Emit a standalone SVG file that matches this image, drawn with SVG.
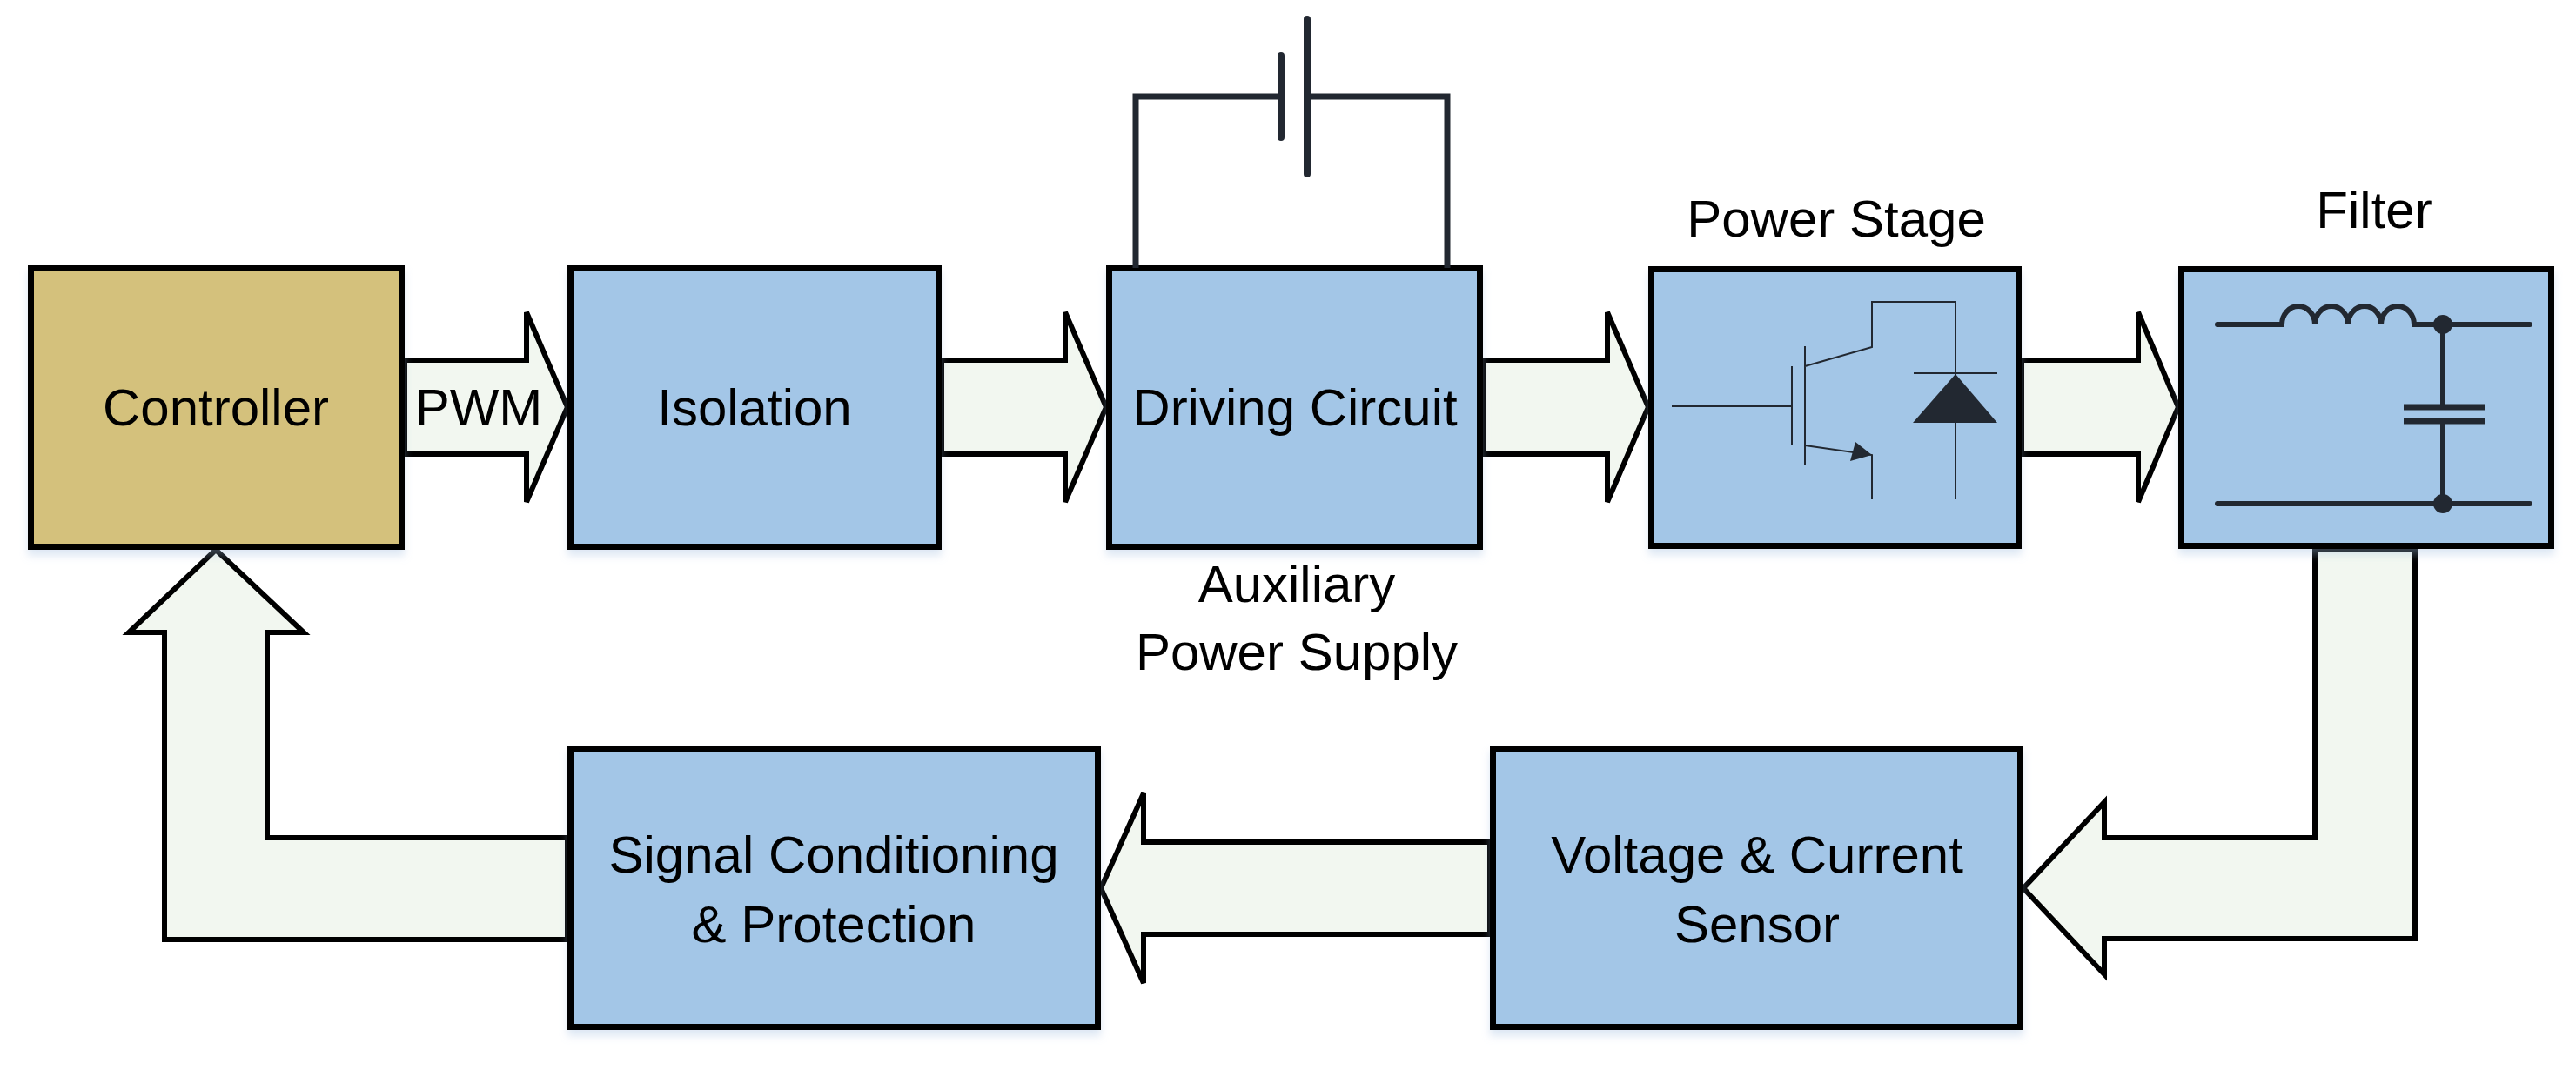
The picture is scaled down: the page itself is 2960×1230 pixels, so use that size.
<svg xmlns="http://www.w3.org/2000/svg" width="2960" height="1230" viewBox="0 0 2960 1230">
<defs>
<filter id="sh" x="-5%" y="-5%" width="110%" height="120%">
<feDropShadow dx="0" dy="7" stdDeviation="5" flood-color="#9fbde0" flood-opacity="0.35"/>
</filter>
<style>
.box{stroke:#000;stroke-width:7;filter:url(#sh)}
.blue{fill:#A3C6E7}
.gold{fill:#D4C17C}
.arr{fill:#F2F7F0;stroke:#000;stroke-width:6;stroke-linejoin:miter}
.lbl{font-family:"Liberation Sans",Arial,sans-serif;font-size:60px;fill:#000;text-anchor:middle}
.thin{fill:none;stroke:#222831;stroke-width:2}
.thick{fill:none;stroke:#222831;stroke-width:6;stroke-linecap:round}
.dark{fill:#222831}
</style>
</defs>
<rect width="2960" height="1230" fill="#fff"/>

<g id="connectors">
<polygon class="arr" points="465,414 605,414 605,359 652,468 605,577 605,522 465,522"/>
<polygon class="arr" points="1082,414 1224,414 1224,359 1271,468 1224,577 1224,522 1082,522"/>
<polygon class="arr" points="1704,414 1847,414 1847,359 1894,468 1847,577 1847,522 1704,522"/>
<polygon class="arr" points="2323,414 2457,414 2457,359 2503,468 2457,577 2457,522 2323,522"/>
<polygon class="arr" points="1712,968 1314,968 1314,912 1265,1021 1314,1130 1314,1074 1712,1074"/>
<polygon class="arr" points="2660,632 2660,963 2418,963 2418,922 2325,1021 2418,1120 2418,1079 2775,1079 2775,632"/>
<polygon class="arr" points="652,963 307,963 307,727 349,727 248,632 148,727 189,727 189,1080 652,1080"/>
<text class="lbl" x="550" y="489">PWM</text>
</g>

<g id="controller">
<rect class="box gold" x="35.5" y="308.5" width="426" height="320"/>
<text class="lbl" x="248" y="489">Controller</text>
</g>

<g id="isolation">
<rect class="box blue" x="655.5" y="308.5" width="423" height="320"/>
<text class="lbl" x="867" y="489">Isolation</text>
</g>

<g id="driving-circuit">
<rect class="box blue" x="1274.5" y="308.5" width="426" height="320"/>
<text class="lbl" x="1488" y="489">Driving Circuit</text>
</g>

<g id="auxiliary-power-supply">
<path d="M1305,308 V111 H1472 M1502,111 H1663 V308" fill="none" stroke="#222831" stroke-width="7"/>
<line x1="1472" y1="64" x2="1472" y2="158" stroke="#222831" stroke-width="8" stroke-linecap="round"/>
<line x1="1502" y1="22" x2="1502" y2="200" stroke="#222831" stroke-width="8" stroke-linecap="round"/>
<text class="lbl" x="1490" y="692">Auxiliary</text>
<text class="lbl" x="1490" y="770">Power Supply</text>
</g>

<g id="power-stage">
<rect class="box blue" x="1897.5" y="309.5" width="422" height="318"/>
<text class="lbl" x="2110" y="272">Power Stage</text>
<path class="thin" d="M1921,467 H2059 M2059,421 V512 M2074,398 V535 M2074,421 L2151,399 V347 H2247 V574 M2074,512 L2151,523 V574 M2199,429 H2295"/>
<polygon class="dark" points="2132,508 2151,523 2126,530"/>
<polygon class="dark" points="2247,430 2198,486 2295,486"/>
</g>

<g id="filter">
<rect class="box blue" x="2506.5" y="309.5" width="425" height="318"/>
<text class="lbl" x="2728" y="262">Filter</text>
<path class="thick" d="M2548,373 H2622 a19,21 0 0 1 38,0 a19,21 0 0 1 38,0 a19,21 0 0 1 38,0 a19,21 0 0 1 38,0 H2907"/>
<path class="thick" d="M2548,579 H2907 M2807,373 V468 M2807,484 V579"/>
<path d="M2762,468 H2856 M2762,484 H2856" stroke="#222831" stroke-width="7" fill="none"/>
<circle class="dark" cx="2807" cy="373" r="11"/>
<circle class="dark" cx="2807" cy="579" r="11"/>
</g>

<g id="signal-conditioning">
<rect class="box blue" x="655.5" y="860.5" width="606" height="320"/>
<text class="lbl" x="958" y="1003">Signal Conditioning</text>
<text class="lbl" x="958" y="1083">&amp; Protection</text>
</g>

<g id="voltage-current-sensor">
<rect class="box blue" x="1715.5" y="860.5" width="606" height="320"/>
<text class="lbl" x="2019" y="1003">Voltage &amp; Current</text>
<text class="lbl" x="2019" y="1083">Sensor</text>
</g>
</svg>
